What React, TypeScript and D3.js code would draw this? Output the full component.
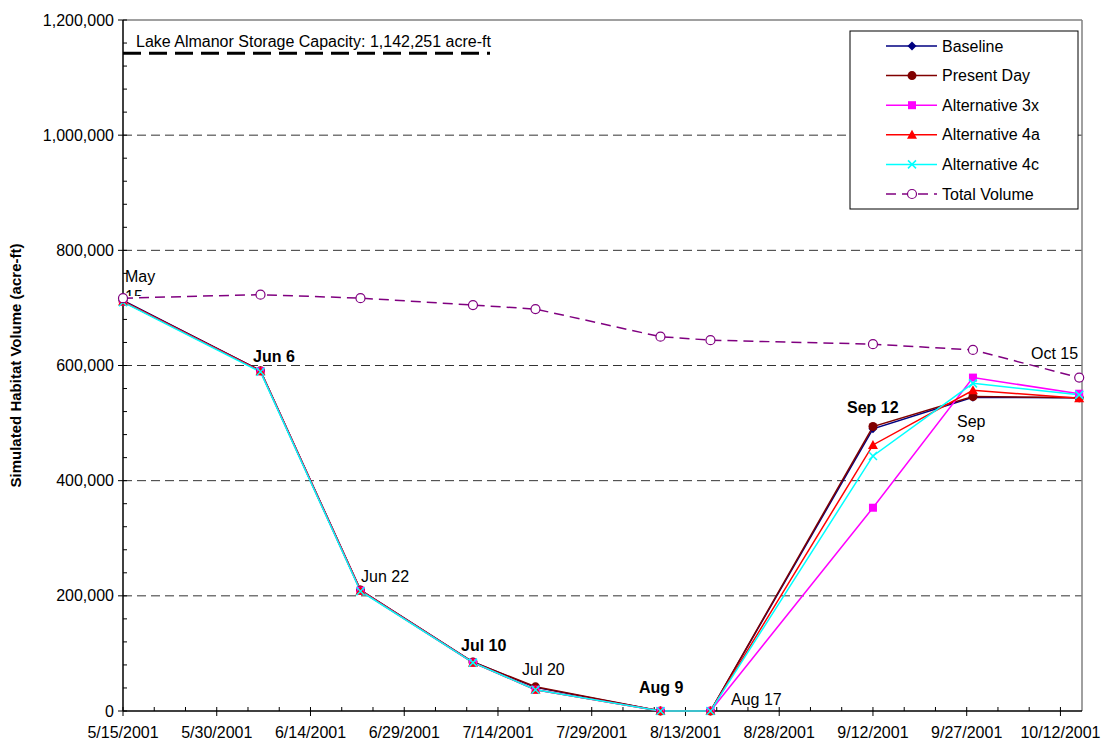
import React from "react";
import * as d3 from "d3";

const dates = ["2001-05-15", "2001-06-06", "2001-06-22", "2001-07-10", "2001-07-20", "2001-08-09", "2001-08-17", "2001-09-12", "2001-09-28", "2001-10-15"];
const baseline = [713000, 591000, 210000, 85000, 41000, 0, 0, 490000, 545000, 544000];
const presentDay = [712000, 591000, 210000, 85000, 42000, 0, 0, 494000, 546000, 544000];
const alt3x = [711000, 590000, 209000, 84000, 37000, 0, 0, 353000, 579000, 551000];
const alt4a = [711000, 590000, 209000, 84000, 37000, 0, 0, 462000, 557000, 543000];
const alt4c = [710000, 589000, 208000, 84000, 37000, 0, 0, 443000, 569000, 549000];
const totalVolume = [717000, 723000, 717000, 705000, 698000, 650000, 644000, 637000, 627000, 579000];
const yTicks = [0, 200000, 400000, 600000, 800000, 1000000, 1200000];
const xTickLabels = ["5/15/2001", "5/30/2001", "6/14/2001", "6/29/2001", "7/14/2001", "7/29/2001", "8/13/2001", "8/28/2001", "9/12/2001", "9/27/2001", "10/12/2001"];
const capacity = 1142251;
const pointLabels = ["May 15", "Jun 6", "Jun 22", "Jul 10", "Jul 20", "Aug 9", "Aug 17", "Sep 12", "Sep 28", "Oct 15"];
const boldLabels = [false, true, false, true, false, true, false, true, false, false];

const parse = d3.timeParse("%Y-%m-%d");
const parseTick = d3.timeParse("%m/%d/%Y");

const W = 1102, H = 746;
const L = 123, R = 1082, T = 20, B = 711;

export default function App() {
  const x = d3.scaleTime().domain([parse("2001-05-15")!, parse("2001-10-15")!]).range([L, 1079.2]);
  const y = d3.scaleLinear().domain([0, 1200000]).range([B, T]);
  const fmt = d3.format(",");
  const ff = "Arial, 'Liberation Sans', sans-serif";
  const xd = dates.map((d) => x(parse(d)!));

  const series = [
    { name: "Baseline", vals: baseline, color: "#000080", marker: "diamond" },
    { name: "Present Day", vals: presentDay, color: "#800000", marker: "circle" },
    { name: "Alternative 3x", vals: alt3x, color: "#FF00FF", marker: "square" },
    { name: "Alternative 4a", vals: alt4a, color: "#FF0000", marker: "triangle" },
    { name: "Alternative 4c", vals: alt4c, color: "#00FFFF", marker: "x" },
  ];

  const line = d3.line<[number, number]>().x((d) => d[0]).y((d) => d[1]);

  const marker = (type: string, cx: number, cy: number, color: string, key: string) => {
    switch (type) {
      case "diamond":
        return <path key={key} d={`M${cx},${cy - 4.5}L${cx + 4.5},${cy}L${cx},${cy + 4.5}L${cx - 4.5},${cy}Z`} fill={color} />;
      case "circle":
        return <circle key={key} cx={cx} cy={cy} r={4.5} fill={color} />;
      case "square":
        return <rect key={key} x={cx - 4} y={cy - 4} width={8} height={8} fill={color} />;
      case "triangle":
        return <path key={key} d={`M${cx},${cy - 5}L${cx + 5},${cy + 4}L${cx - 5},${cy + 4}Z`} fill={color} />;
      case "x":
        return <path key={key} d={`M${cx - 4},${cy - 4}L${cx + 4},${cy + 4}M${cx - 4},${cy + 4}L${cx + 4},${cy - 4}`} stroke={color} strokeWidth={1.5} />;
      case "open":
        return <circle key={key} cx={cx} cy={cy} r={4.5} fill="white" stroke={color} strokeWidth={1.2} />;
    }
    return null;
  };

  const minorX = d3.timeDay.every(1)!.range(parse("2001-05-15")!, parse("2001-10-16")!).filter((d, i) => i % 5 === 0);
  const minorY = d3.range(0, 1200001, 40000);

  const labelPos: { dx: number; dy: number; lines: string[]; clip?: number }[] = [
    { dx: 125, dy: 282, lines: ["May", "15"], clip: 296 },
    { dx: 253, dy: 362, lines: ["Jun 6"] },
    { dx: 361, dy: 582, lines: ["Jun 22"] },
    { dx: 461, dy: 651, lines: ["Jul 10"] },
    { dx: 522, dy: 675, lines: ["Jul 20"] },
    { dx: 639, dy: 693, lines: ["Aug 9"] },
    { dx: 731, dy: 705, lines: ["Aug 17"] },
    { dx: 847, dy: 413, lines: ["Sep 12"] },
    { dx: 957, dy: 427, lines: ["Sep", "28"], clip: 442 },
    { dx: 1031, dy: 359, lines: ["Oct 15"] },
  ];

  return (
    <svg width={W} height={H} style={{ position: "absolute", left: 0, top: 0, background: "white" }} fontFamily={ff}>
      <rect x={0} y={0} width={W} height={H} fill="white" />
      <defs>
        {labelPos.map((p, i) =>
          p.clip ? (
            <clipPath id={`clip${i}`} key={i}>
              <rect x={p.dx - 5} y={0} width={80} height={p.clip} />
            </clipPath>
          ) : null
        )}
      </defs>
      {yTicks.filter((t) => t > 0 && t < 1200000).map((t) => (
        <line key={t} x1={L} x2={R} y1={y(t)} y2={y(t)} stroke="#333" strokeWidth={1} strokeDasharray="9,5" />
      ))}
      <line x1={L} x2={R} y1={T} y2={T} stroke="#808080" strokeWidth={1.5} />
      <line x1={R} x2={R} y1={T} y2={B} stroke="#808080" strokeWidth={1.5} />
      <line x1={L} x2={L} y1={T} y2={B} stroke="#000" strokeWidth={1.5} />
      <line x1={L} x2={R} y1={B} y2={B} stroke="#000" strokeWidth={1.5} />
      {minorY.map((t) => (
        <line key={"my" + t} x1={L} x2={L + 4} y1={y(t)} y2={y(t)} stroke="#000" />
      ))}
      {yTicks.map((t) => (
        <g key={"yt" + t}>
          <line x1={L - 5} x2={L} y1={y(t)} y2={y(t)} stroke="#000" />
          <text x={L - 9} y={y(t)} dy="0.35em" textAnchor="end" fontSize={16}>
            {fmt(t)}
          </text>
        </g>
      ))}
      {minorX.map((d, i) => (
        <line key={"mx" + i} x1={x(d)} x2={x(d)} y1={B - 4} y2={B} stroke="#000" />
      ))}
      {xTickLabels.map((s) => {
        const xv = x(parseTick(s)!);
        return (
          <g key={s}>
            <line x1={xv} x2={xv} y1={B} y2={B + 5} stroke="#000" />
            <text x={xv} y={B + 27} textAnchor="middle" fontSize={16}>
              {s}
            </text>
          </g>
        );
      })}
      <text transform={`translate(21,${(T + B) / 2}) rotate(-90)`} textAnchor="middle" fontSize={15} fontWeight="bold">
        Simulated Habitat Volume (acre-ft)
      </text>
      <line x1={L} x2={490} y1={y(capacity)} y2={y(capacity)} stroke="#000" strokeWidth={3} strokeDasharray="18,8" />
      <text x={136} y={47} fontSize={16}>
        Lake Almanor Storage Capacity: 1,142,251 acre-ft
      </text>
      {series.map((s) => (
        <path key={s.name} d={line(s.vals.map((v, i) => [xd[i], y(v)]))!} fill="none" stroke={s.color} strokeWidth={1.5} />
      ))}
      {series.map((s) => (
        <g key={"m" + s.name}>{s.vals.map((v, i) => marker(s.marker, xd[i], y(v), s.color, s.name + i))}</g>
      ))}
      <path d={line(totalVolume.map((v, i) => [xd[i], y(v)]))!} fill="none" stroke="#800080" strokeWidth={1.5} strokeDasharray="10,6" />
      {totalVolume.map((v, i) => marker("open", xd[i], y(v), "#800080", "tv" + i))}
      {labelPos.map((p, i) => (
        <g key={"lbl" + i} clipPath={p.clip ? `url(#clip${i})` : undefined}>
          {p.lines.map((ln, j) => (
            <text key={j} x={p.dx} y={p.dy + j * 20} fontSize={16} fontWeight={boldLabels[i] ? "bold" : "normal"}>
              {ln}
            </text>
          ))}
        </g>
      ))}
      <rect x={850} y={31} width={228} height={178} fill="white" stroke="#000" strokeWidth={1} />
      {[...series, { name: "Total Volume", color: "#800080", marker: "open", vals: [] as number[] }].map((s, i) => {
        const ly = 46 + i * 29.6;
        return (
          <g key={"lg" + s.name}>
            <line x1={886} x2={937} y1={ly} y2={ly} stroke={s.color} strokeWidth={1.5} strokeDasharray={s.marker === "open" ? "10,6" : undefined} />
            {marker(s.marker, 912, ly, s.color, "lgm" + i)}
            <text x={942} y={ly} dy="0.35em" fontSize={16}>
              {pointLabels.length ? s.name : ""}
            </text>
          </g>
        );
      })}
    </svg>
  );
}
